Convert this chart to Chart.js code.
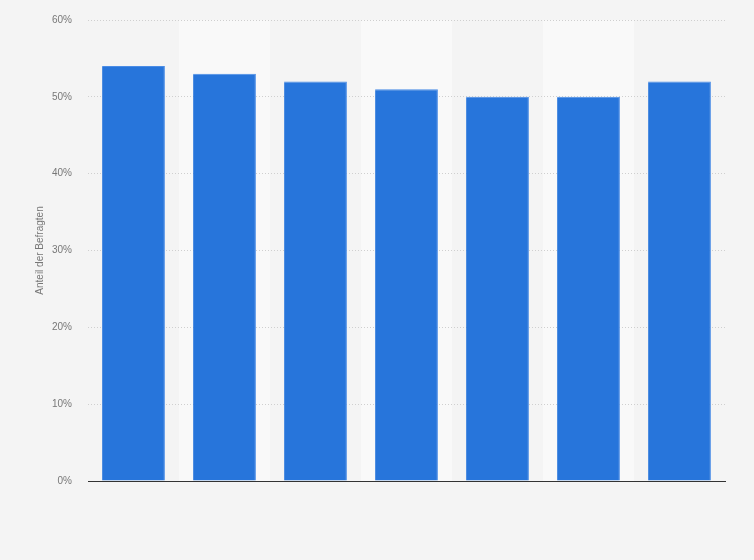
<!DOCTYPE html>
<html><head><meta charset="utf-8">
<script src="https://cdn.jsdelivr.net/npm/chart.js@4/dist/chart.umd.min.js"></script>
<style>html,body{margin:0;padding:0;background:#f4f4f4;}#wrap{width:754px;height:560px;}</style>
</head><body><div id="wrap"><canvas id="c"></canvas></div>
<script>
const categories = ['', '', '', '', '', '', ''];
const values = [54, 53, 52, 51, 50, 50, 52];
const yTicks = [0, 10, 20, 30, 40, 50, 60];

const bandPlugin = {
  id: 'bands',
  beforeDraw(chart) {
    const {ctx, chartArea, scales} = chart;
    const x = scales.x;
    const step = (chartArea.right - chartArea.left) / categories.length;
    ctx.save();
    ctx.fillStyle = '#f9f9f9';
    for (let i = 1; i < categories.length; i += 2) {
      const cx = x.getPixelForValue(i);
      ctx.fillRect(cx - step / 2, chartArea.top, step, chartArea.bottom - chartArea.top);
    }
    ctx.restore();
  }
};

new Chart(document.getElementById('c'), {
  type: 'bar',
  data: {
    labels: categories,
    datasets: [{
      data: values,
      backgroundColor: '#2775db',
      borderColor: '#4a8ce6',
      borderWidth: {left: 0, right: 1, top: 1, bottom: 0},
      barPercentage: 0.69,
      categoryPercentage: 1
    }]
  },
  options: {
    responsive: true,
    maintainAspectRatio: false,
    animation: false,
    layout: {padding: {left: 34, right: 29, top: 20, bottom: 79}},
    plugins: {legend: {display: false}, tooltip: {enabled: false}},
    scales: {
      x: {
        ticks: {display: false},
        grid: {display: false, drawTicks: false},
        border: {display: true, color: '#333', width: 1},
        afterFit(s) { s.height = 0; }
      },
      y: {
        min: 0, max: 60,
        afterBuildTicks(s) { s.ticks = yTicks.map(v => ({value: v})); },
        ticks: {
          callback: v => v + '%',
          color: '#777',
          font: {family: 'Arial, Liberation Sans, sans-serif', size: 10},
          padding: 16
        },
        grid: {color: '#cfcfcf', drawTicks: false},
        border: {display: false, dash: [1, 2]},
        title: {
          display: true,
          text: 'Anteil der Befragten',
          color: '#777',
          font: {family: 'Arial, Liberation Sans, sans-serif', size: 10},
          padding: {top: 0, bottom: 0}
        },
        afterFit(s) { s.width = 54; s.paddingTop = 0; s.paddingBottom = 0; }
      }
    }
  },
  plugins: [bandPlugin]
});
</script></body></html>
